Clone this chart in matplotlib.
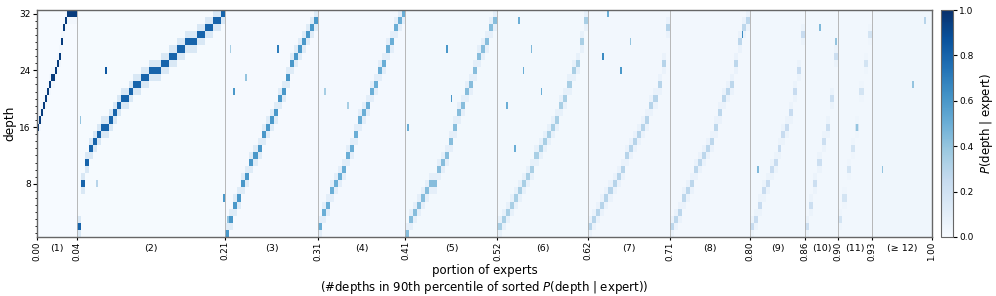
import numpy as np
import matplotlib.pyplot as plt
from matplotlib.colors import Normalize

# group boundaries (portion of experts) and their printed labels
bounds = [0.0, 0.0447, 0.2103, 0.3141, 0.4117, 0.5145, 0.6156, 0.7071,
          0.7968, 0.8580, 0.8952, 0.9330, 1.0]
tick_labels = ["0.00", "0.04", "0.21", "0.31", "0.41", "0.52", "0.62",
               "0.71", "0.80", "0.86", "0.90", "0.93", "1.00"]
group_labels = ["(1)", "(2)", "(3)", "(4)", "(5)", "(6)", "(7)", "(8)",
                "(9)", "(10)", "(11)", "(≥ 12)"]

# depth with the largest P(depth | expert), read column by column per group
ridge_1 = [16, 17, 18, 19, 20, 21, 22, 23, 23, 24, 25, 26, 28, 30, 31,
           32, 32, 32, 32, 32]
ridge_2 = [2, 8, 11, 13, 14, 15, 16, 16, 17, 18, 19, 20, 20, 21, 22, 22,
           23, 23, 24, 24, 24, 25, 25, 26, 26, 27, 27, 28, 28, 28, 29, 29,
           30, 30, 31, 31, 32]
ridge_3 = [1, 3, 5, 6, 8, 9, 11, 12, 13, 15, 16, 17, 18, 20, 21, 23, 25,
           26, 27, 28, 29, 30, 31]
ridge_4 = [2, 4, 5, 7, 8, 9, 10, 12, 13, 15, 17, 18, 19, 21, 22, 24, 25,
           27, 28, 30, 31, 32]
ridge_5 = [1, 3, 4, 5, 6, 7, 8, 8, 10, 11, 12, 14, 16, 18, 19, 21, 22, 24,
           26, 27, 28, 30, 31]
ridge_6 = [2, 3, 4, 5, 6, 7, 8, 9, 10, 12, 13, 14, 15, 16, 17, 19, 20, 22,
           24, 25, 28, 31]
ridge_7 = [2, 3, 4, 5, 6, 7, 8, 9, 10, 12, 13, 14, 15, 16, 17, 19, 20, 22,
           25, 30]
ridge_8 = [2, 3, 4, 6, 7, 8, 10, 11, 12, 13, 14, 16, 18, 20, 21, 22, 25,
           28, 30, 31]
ridge_9 = [2, 3, 5, 7, 8, 10, 11, 13, 15, 16, 18, 21, 24, 29]
ridge_10 = [2, 5, 8, 11, 14, 16, 20, 26]
ridge_11 = [3, 6, 10, 13, 16, 21, 25, 29]
ridge_12 = []
ridges = [ridge_1, ridge_2, ridge_3, ridge_4, ridge_5, ridge_6, ridge_7,
          ridge_8, ridge_9, ridge_10, ridge_11, ridge_12]
cols_12 = 15

ridge_peak = [0.95, 0.8, 0.6, 0.5, 0.43, 0.34, 0.3, 0.28, 0.24, 0.22, 0.18, 0.0]
ridge_side = [0.03, 0.15, 0.12, 0.1, 0.09, 0.08, 0.07, 0.07, 0.06, 0.06, 0.05, 0.0]
background = [0.005, 0.01, 0.015, 0.02, 0.025, 0.025, 0.03, 0.03, 0.035,
              0.035, 0.035, 0.04]

# isolated streaks visible off the ridges
stray_x = [0.0771, 0.0488, 0.0667, 0.2089, 0.2134, 0.2693, 0.2201, 0.2164,
           0.2335, 0.3218, 0.3475, 0.4578, 0.4633, 0.4145, 0.5248, 0.5341,
           0.5434, 0.5639, 0.5385, 0.5527, 0.6321, 0.6522, 0.638, 0.6633,
           0.7883, 0.8059, 0.8749, 0.9791, 0.9449, 0.9159, 0.8927, 0.9922]
stray_depth = [24, 17, 8, 6, 3, 27, 21, 27, 23, 21, 19, 27, 20, 16, 19, 13,
               24, 21, 31, 27, 26, 24, 32, 28, 29, 10, 30, 22, 10, 16, 28, 31]
stray_value = [0.85, 0.4, 0.3, 0.6, 0.4, 0.7, 0.6, 0.35, 0.4, 0.35, 0.35,
               0.6, 0.6, 0.5, 0.5, 0.5, 0.5, 0.5, 0.5, 0.45, 0.65, 0.6, 0.5,
               0.4, 0.65, 0.45, 0.45, 0.4, 0.4, 0.4, 0.4, 0.3]

n_depth = 32

x_edges = [0.0]
columns = []
for g, ridge in enumerate(ridges):
    n = len(ridge) if ridge else cols_12
    x_edges.extend(np.linspace(bounds[g], bounds[g + 1], n + 1)[1:])
    for j in range(n):
        col = np.full(n_depth, background[g])
        if ridge:
            d = ridge[j] - 1
            if d - 1 >= 0:
                col[d - 1] = ridge_side[g]
            if d + 1 < n_depth:
                col[d + 1] = ridge_side[g]
            col[d] = ridge_peak[g]
        columns.append(col)
Z = np.array(columns).T
y_edges = np.arange(n_depth + 1) + 0.5

cmap = plt.get_cmap("Blues")
norm = Normalize(0, 1)

fig = plt.figure(figsize=(9.96, 2.96), dpi=100)
ax = fig.add_axes([37 / 996, 59 / 296, 895 / 996, 227 / 296])
cax = fig.add_axes([941 / 996, 59 / 296, 12 / 996, 227 / 296])

mesh = ax.pcolormesh(x_edges, y_edges, Z, cmap=cmap, norm=norm,
                     shading="flat", rasterized=True)
ax.bar(stray_x, 1, bottom=np.array(stray_depth) - 0.5, width=0.0018,
       color=cmap(norm(stray_value)), linewidth=0)

for b in bounds[1:-1]:
    ax.axvline(b, color="0.68", lw=0.6)

ax.set_xlim(0, 1)
ax.set_ylim(0.5, 32.5)
ax.set_xticks(bounds)
ax.set_xticklabels(tick_labels, rotation=90, fontsize=6.3)
ax.tick_params(axis="x", length=2, pad=1)
ax.set_yticks([8, 16, 24, 32])
ax.set_yticks(np.arange(1, 33), minor=True)
ax.tick_params(axis="y", labelsize=6.5, length=3, pad=1.5)
ax.tick_params(axis="y", which="minor", length=1.5)

for g, lab in enumerate(group_labels):
    ax.text((bounds[g] + bounds[g + 1]) / 2, -0.05, lab, fontsize=6.8,
            ha="center", va="center", transform=ax.get_xaxis_transform())

ax.set_ylabel("depth", fontsize=8.7, labelpad=2)
ax.set_xlabel("portion of experts\n(#depths in 90th percentile of sorted "
              "$P$(depth | expert))", fontsize=8.5, linespacing=1.15)
ax.xaxis.set_label_coords(0.5, -0.118)
ax.xaxis.label.set_va("top")

for sp in ax.spines.values():
    sp.set_color("0.4")
    sp.set_linewidth(1.0)

cb = fig.colorbar(mesh, cax=cax)
cb.set_ticks([0, 0.2, 0.4, 0.6, 0.8, 1.0])
cb.ax.tick_params(labelsize=6.5, length=3, pad=1.5)
cb.outline.set_edgecolor("0.4")
cb.set_label("$P$(depth | expert)", fontsize=8.5, labelpad=3)

fig.savefig("out.png", dpi=100)
